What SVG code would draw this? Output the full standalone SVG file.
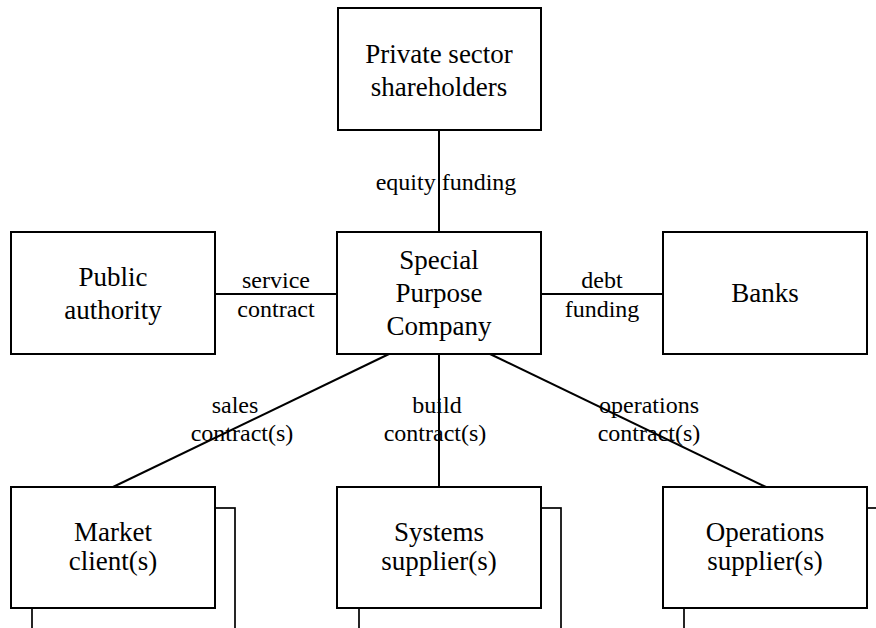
<svg xmlns="http://www.w3.org/2000/svg" width="876" height="628" viewBox="0 0 876 628">
<style>
.box{fill:#fff;stroke:#000;stroke-width:2}
.back{fill:#fff;stroke:#000;stroke-width:1.7}
.conn{stroke:#000;stroke-width:2;fill:none}
text{font-family:'Liberation Serif','Times New Roman',Tinos,'DejaVu Serif',serif;text-anchor:middle;fill:#000}
.nt{font-size:27px}
.lt{font-size:24px}
</style>
<rect width="876" height="628" fill="#fff"/>
<g id="connectors">
<line class="conn" x1="439" y1="130" x2="439" y2="232"/>
<line class="conn" x1="215" y1="294" x2="337" y2="294"/>
<line class="conn" x1="541" y1="294" x2="663" y2="294"/>
<line class="conn" x1="389" y1="354" x2="113" y2="487"/>
<line class="conn" x1="439" y1="354" x2="439" y2="487"/>
<line class="conn" x1="490" y1="354" x2="766" y2="487"/>
</g>
<g id="labels" font-family="Liberation Serif, Times New Roman, serif">
<text class="lt" x="446" y="190">equity funding</text>
<text class="lt" x="276" y="288">service</text>
<text class="lt" x="276" y="317">contract</text>
<text class="lt" x="602" y="288">debt</text>
<text class="lt" x="602" y="317">funding</text>
<text class="lt" x="235" y="413">sales</text>
<text class="lt" x="242" y="441">contract(s)</text>
<text class="lt" x="437" y="413">build</text>
<text class="lt" x="435" y="441">contract(s)</text>
<text class="lt" x="649" y="413">operations</text>
<text class="lt" x="649" y="441">contract(s)</text>
</g>
<g id="private">
<rect class="box" x="338" y="8" width="203" height="122"/>
<text class="nt" x="439" y="63">Private sector</text>
<text class="nt" x="439" y="96">shareholders</text>
</g>
<g id="public">
<rect class="box" x="11" y="232" width="204" height="122"/>
<text class="nt" x="113" y="286">Public</text>
<text class="nt" x="113" y="319">authority</text>
</g>
<g id="spc">
<rect class="box" x="337" y="232" width="204" height="122"/>
<text class="nt" x="439" y="269">Special</text>
<text class="nt" x="439" y="302">Purpose</text>
<text class="nt" x="439" y="335">Company</text>
</g>
<g id="banks">
<rect class="box" x="663" y="232" width="204" height="122"/>
<text class="nt" x="765" y="302">Banks</text>
</g>
<g id="market">
<rect class="back" x="32" y="508" width="203" height="200"/>
<rect class="box" x="11" y="487" width="204" height="121"/>
<text class="nt" x="113" y="541">Market</text>
<text class="nt" x="113" y="570">client(s)</text>
</g>
<g id="systems">
<rect class="back" x="359" y="508" width="202" height="200"/>
<rect class="box" x="337" y="487" width="204" height="121"/>
<text class="nt" x="439" y="541">Systems</text>
<text class="nt" x="439" y="570">supplier(s)</text>
</g>
<g id="operations">
<rect class="back" x="684" y="508" width="220" height="200"/>
<rect class="box" x="663" y="487" width="204" height="121"/>
<text class="nt" x="765" y="541">Operations</text>
<text class="nt" x="765" y="570">supplier(s)</text>
</g>
</svg>
